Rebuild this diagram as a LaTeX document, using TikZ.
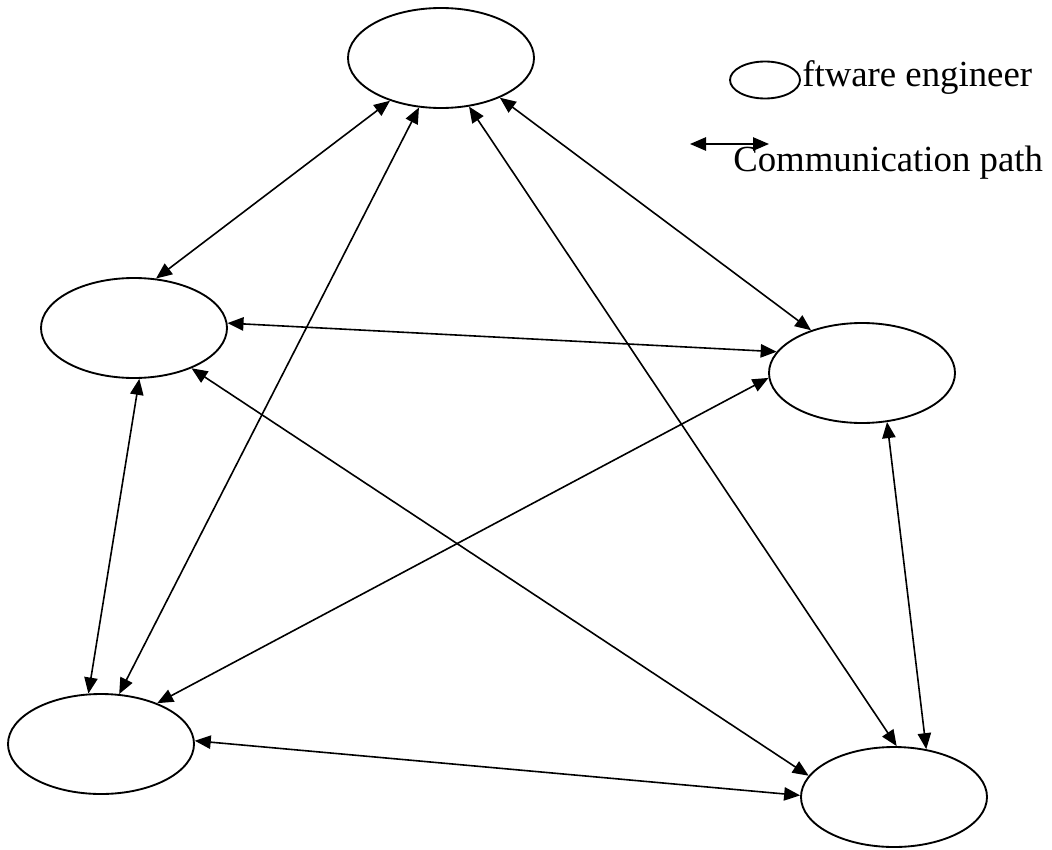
\documentclass[tikz,border=0pt]{standalone}
\usepackage{fontspec}
\setmainfont{Liberation Serif}
\usetikzlibrary{shapes.geometric,arrows.meta}
\begin{document}
\begin{tikzpicture}[x=0.75pt,y=-0.75pt,
  eng/.style={ellipse,draw,line width=1.4pt,fill=white,minimum width=139.5pt,minimum height=75pt,inner sep=0pt},
  comm/.style={line width=1.2pt,{Triangle[length=12pt,width=10pt]}-{Triangle[length=12pt,width=10pt]}},
  lbl/.style={font=\fontsize{27.6}{32}\selectfont,inner sep=0pt,anchor=base west}]
\useasboundingbox (0,0) rectangle (1052,849);
% engineers
\node[eng] (t)  at (441,58)  {};
\node[eng] (l)  at (134,328) {};
\node[eng] (r)  at (862,373) {};
\node[eng] (bl) at (101,744) {};
\node[eng] (br) at (894,797) {};
% communication paths
\draw[comm] (t.220) -- (l.66);
\draw[comm] (t.246) -- (bl.70);
\draw[comm] (t.300) -- (br.87);
\draw[comm] (t.326) -- (r.140);
\draw[comm] (l.3)   -- (r.166);
\draw[comm] (l.325) -- (br.166);
\draw[comm] (l.276) -- (bl.104);
\draw[comm] (r.183) -- (bl.36);
\draw[comm] (r.297) -- (br.56);
\draw[comm] (bl.2.5) -- (br.179);
% legend
\node[eng,minimum width=52.5pt,minimum height=27.75pt] (le) at (765,80) {};
\node[lbl] (lt1) at (802,87) {ftware engineer};
\coordinate (la) at (690,144);
\coordinate (lb) at (769,144);
\draw[comm] (la) -- (lb);
\node[lbl] (lt2) at (733,171) {Communication path};
\end{tikzpicture}
\end{document}
